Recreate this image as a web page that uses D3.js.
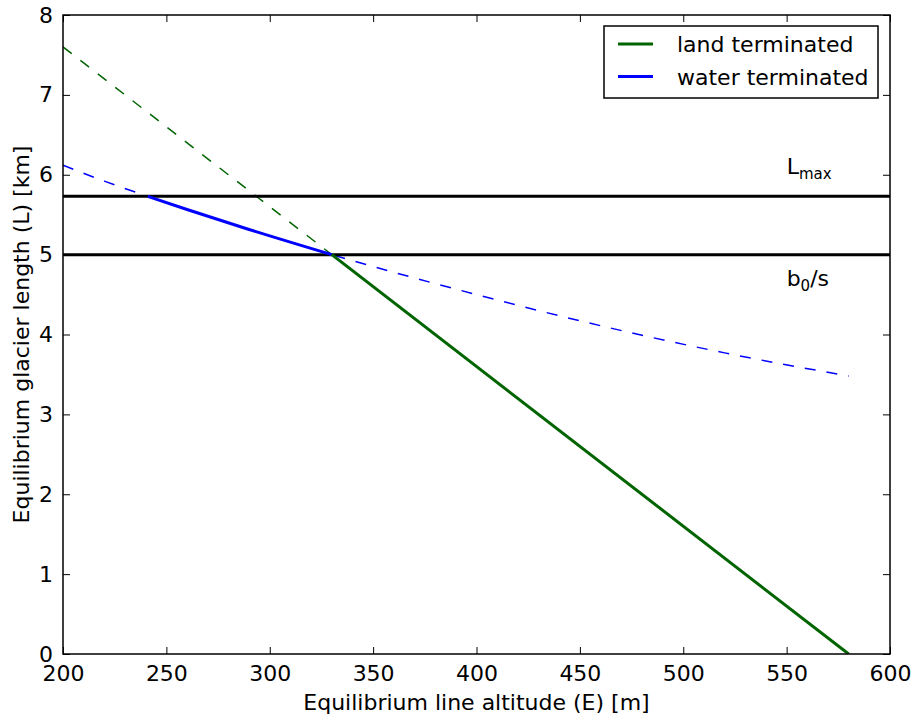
<!DOCTYPE html>
<html>
<head>
<meta charset="utf-8">
<script src="https://cdn.jsdelivr.net/npm/d3@7"></script>
<style>
  body { margin: 0; background: #fff; }
  svg { font-family: "DejaVu Sans", sans-serif; }
</style>
</head>
<body>
<svg width="915" height="720"></svg>
<script>
// values
const landE = [200, 330, 580];
const landL = [7.6, 5.0, 0];
const landSolid = [330, 580];

const waterE = [200, 220, 241, 260, 290, 330, 400, 460, 520, 580];
const waterL = [6.12, 5.92, 5.73, 5.565, 5.315, 5.0, 4.50, 4.11, 3.77, 3.48];
const waterSolid = [241, 330];

const Lmax = 5.73;
const b0s = 5.0;

const xTicks = [200, 250, 300, 350, 400, 450, 500, 550, 600];
const yTicks = [0, 1, 2, 3, 4, 5, 6, 7, 8];

const margin = {top: 15, right: 25, bottom: 66, left: 63};
const width = 915 - margin.left - margin.right;
const height = 720 - margin.top - margin.bottom;
const fs = 22;

const svg = d3.select("svg")
  .append("g")
  .attr("transform", `translate(${margin.left},${margin.top})`);

const x = d3.scaleLinear().domain([200, 600]).range([0, width]);
const y = d3.scaleLinear().domain([0, 8]).range([height, 0]);

const line = d3.line().x(d => x(d[0])).y(d => y(d[1])).curve(d3.curveMonotoneX);

const land = landE.map((e, i) => [e, landL[i]]);
const water = waterE.map((e, i) => [e, waterL[i]]);
const inRange = (pts, r) => pts.filter(p => p[0] >= r[0] && p[0] <= r[1]);

// clip to axes
svg.append("clipPath").attr("id", "clip")
  .append("rect").attr("width", width).attr("height", height);
const plot = svg.append("g").attr("clip-path", "url(#clip)");

// dashed full curves
plot.append("path").datum(land)
  .attr("d", line).attr("fill", "none")
  .attr("stroke", "#006400").attr("stroke-width", 1.5)
  .attr("stroke-dasharray", "11,11");
plot.append("path").datum(water)
  .attr("d", line).attr("fill", "none")
  .attr("stroke", "#0000ff").attr("stroke-width", 1.5)
  .attr("stroke-dasharray", "11,11");

// horizontal reference lines
[Lmax, b0s].forEach(v => {
  plot.append("line")
    .attr("x1", 0).attr("x2", width)
    .attr("y1", y(v)).attr("y2", y(v))
    .attr("stroke", "#000").attr("stroke-width", 3);
});

// solid parts
plot.append("path").datum(inRange(water, waterSolid))
  .attr("d", line).attr("fill", "none")
  .attr("stroke", "#0000ff").attr("stroke-width", 3);
plot.append("path").datum(inRange(land, landSolid))
  .attr("d", line).attr("fill", "none")
  .attr("stroke", "#006400").attr("stroke-width", 3);

// line labels
const lab1 = svg.append("text").attr("x", x(550)).attr("y", y(Lmax) - 22)
  .attr("font-size", fs);
lab1.append("tspan").text("L");
lab1.append("tspan").attr("font-size", 15).attr("dy", 5).text("max");

const lab2 = svg.append("text").attr("x", x(550)).attr("y", y(b0s) + 31)
  .attr("font-size", fs);
lab2.append("tspan").text("b");
lab2.append("tspan").attr("font-size", 15).attr("dy", 5).text("0");
lab2.append("tspan").attr("dy", -5).text("/s");

// axes with inward ticks on all sides
const tickLen = 7;
const fmt = d3.format("d");
svg.append("g").attr("transform", `translate(0,${height})`)
  .call(d3.axisBottom(x).tickValues(xTicks).tickSizeInner(-tickLen).tickSizeOuter(0).tickPadding(11).tickFormat(fmt));
svg.append("g")
  .call(d3.axisTop(x).tickValues(xTicks).tickSizeInner(-tickLen).tickSizeOuter(0).tickFormat(""));
svg.append("g")
  .call(d3.axisLeft(y).tickValues(yTicks).tickSizeInner(-tickLen).tickSizeOuter(0).tickPadding(10).tickFormat(fmt));
svg.append("g").attr("transform", `translate(${width},0)`)
  .call(d3.axisRight(y).tickValues(yTicks).tickSizeInner(-tickLen).tickSizeOuter(0).tickFormat(""));

svg.selectAll(".domain").remove();
svg.selectAll(".tick line").attr("stroke", "#000").attr("stroke-width", 1);
svg.selectAll(".tick text").attr("font-size", fs).attr("fill", "#000")
  .attr("font-family", "DejaVu Sans, sans-serif");

svg.append("rect").attr("width", width).attr("height", height)
  .attr("fill", "none").attr("stroke", "#000").attr("stroke-width", 1.5);

// axis titles
svg.append("text")
  .attr("x", width / 2).attr("y", height + 56)
  .attr("text-anchor", "middle").attr("font-size", fs)
  .text("Equilibrium line altitude (E) [m]");
svg.append("text")
  .attr("transform", `translate(${-34},${height / 2}) rotate(-90)`)
  .attr("text-anchor", "middle").attr("font-size", fs)
  .text("Equilibrium glacier length (L) [km]");

// legend
const legend = svg.append("g").attr("transform", `translate(${604 - margin.left},${26 - margin.top})`);
legend.append("rect").attr("width", 274).attr("height", 72)
  .attr("fill", "#fff").attr("stroke", "#000").attr("stroke-width", 1.5);
const items = [["land terminated", "#006400"], ["water terminated", "#0000ff"]];
items.forEach((it, i) => {
  const yy = 18 + i * 32.5;
  legend.append("line").attr("x1", 14).attr("x2", 49)
    .attr("y1", yy).attr("y2", yy)
    .attr("stroke", it[1]).attr("stroke-width", 3);
  legend.append("text").attr("x", 73).attr("y", yy + 8)
    .attr("font-size", fs).text(it[0]);
});
</script>
</body>
</html>
